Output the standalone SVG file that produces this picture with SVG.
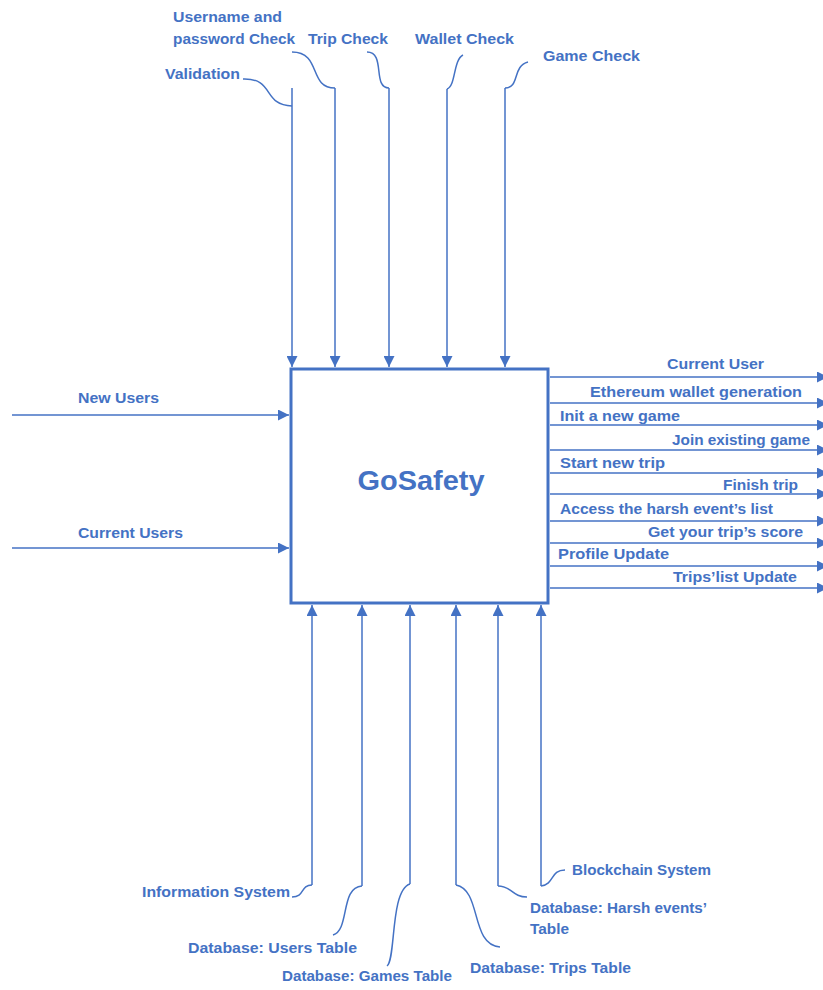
<svg xmlns="http://www.w3.org/2000/svg" width="823" height="990" viewBox="0 0 823 990">
<style>
.t{font-family:"Liberation Sans",Arial,sans-serif;font-weight:bold;font-size:15.5px;fill:#4472C4}
.c{fill:none;stroke:#4472C4;stroke-width:1.5}
.a{fill:none;stroke:#4472C4;stroke-width:1.5;marker-end:url(#ah)}
</style>
<defs>
<marker id="ah" viewBox="0 0 10 10" refX="10" refY="5" markerWidth="11" markerHeight="11" markerUnits="userSpaceOnUse" orient="auto">
<path d="M0,0 L10,5 L0,10 z" fill="#4472C4"/>
</marker>
</defs>
<rect width="823" height="990" fill="#fff"/>
<g id="gosafety">
<rect x="291" y="369" width="257" height="234" fill="#fff" stroke="#4472C4" stroke-width="3"/>
<text x="421" y="490" text-anchor="middle" style="font-family:'Liberation Sans',Arial,sans-serif;font-weight:bold;font-size:27px;fill:#4472C4" textLength="127" lengthAdjust="spacingAndGlyphs">GoSafety</text>
</g>
<g id="connectors">
<path class="c" d="M243,79 C275,78 262,105 292,106"/>
<path class="a" d="M292,88 L292,367"/>
<path class="c" d="M292,52 C322,52 308,88 335,88"/>
<path class="a" d="M335,88 L335,367"/>
<path class="c" d="M367,52 C386,52 372,88 389,88"/>
<path class="a" d="M389,88 L389,367"/>
<path class="c" d="M463,55 C453,60 456,86 447,89"/>
<path class="a" d="M447,89 L447,367"/>
<path class="c" d="M528,62 C512,66 520,88 505,88"/>
<path class="a" d="M505,88 L505,367"/>
<path class="a" d="M12,415 L289,415"/>
<path class="a" d="M12,548 L289,548"/>
<path class="a" d="M550,377 L828,377"/>
<path class="a" d="M550,403 L828,403"/>
<path class="a" d="M550,425 L828,425"/>
<path class="a" d="M550,450 L828,450"/>
<path class="a" d="M550,473 L828,473"/>
<path class="a" d="M550,494 L828,494"/>
<path class="a" d="M550,521 L828,521"/>
<path class="a" d="M550,543 L828,543"/>
<path class="a" d="M550,566 L828,566"/>
<path class="a" d="M550,588 L828,588"/>
<path class="a" d="M312,885 L312,605"/>
<path class="c" d="M312,885 C300,885 305,897 292,897"/>
<path class="a" d="M362,886 L362,605"/>
<path class="c" d="M362,886 C340,887 350,930 333,935"/>
<path class="a" d="M410,884 L410,605"/>
<path class="c" d="M410,884 C390,890 396,960 387,966"/>
<path class="a" d="M456,885 L456,605"/>
<path class="c" d="M456,885 C482,890 470,945 500,947"/>
<path class="a" d="M498,886 L498,605"/>
<path class="c" d="M498,886 C512,886 512,897 527,897"/>
<path class="a" d="M541,886 L541,605"/>
<path class="c" d="M541,886 C555,884 550,870 565,870"/>
</g>
<g id="label-validation"><text class="t" x="165" y="79" textLength="75" lengthAdjust="spacingAndGlyphs">Validation</text></g>
<g id="label-username"><text class="t" x="173" y="22" textLength="109" lengthAdjust="spacingAndGlyphs">Username and</text><text class="t" x="173" y="44" textLength="122" lengthAdjust="spacingAndGlyphs">password Check</text></g>
<g id="label-trip-check"><text class="t" x="308" y="44" textLength="80" lengthAdjust="spacingAndGlyphs">Trip Check</text></g>
<g id="label-wallet-check"><text class="t" x="415" y="44" textLength="99" lengthAdjust="spacingAndGlyphs">Wallet Check</text></g>
<g id="label-game-check"><text class="t" x="543" y="61" textLength="97" lengthAdjust="spacingAndGlyphs">Game Check</text></g>
<g id="label-new-users"><text class="t" x="78" y="403" textLength="81" lengthAdjust="spacingAndGlyphs">New Users</text></g>
<g id="label-current-users"><text class="t" x="78" y="538" textLength="105" lengthAdjust="spacingAndGlyphs">Current Users</text></g>
<g id="label-current-user"><text class="t" x="667" y="369" textLength="97" lengthAdjust="spacingAndGlyphs">Current User</text></g>
<g id="label-ethereum"><text class="t" x="590" y="397" textLength="212" lengthAdjust="spacingAndGlyphs">Ethereum wallet generation</text></g>
<g id="label-init-game"><text class="t" x="560" y="421" textLength="120" lengthAdjust="spacingAndGlyphs">Init a new game</text></g>
<g id="label-join-game"><text class="t" x="672" y="445" textLength="138" lengthAdjust="spacingAndGlyphs">Join existing game</text></g>
<g id="label-start-trip"><text class="t" x="560" y="468" textLength="105" lengthAdjust="spacingAndGlyphs">Start new trip</text></g>
<g id="label-finish-trip"><text class="t" x="723" y="490" textLength="75" lengthAdjust="spacingAndGlyphs">Finish trip</text></g>
<g id="label-harsh-list"><text class="t" x="560" y="514" textLength="213" lengthAdjust="spacingAndGlyphs">Access the harsh event’s list</text></g>
<g id="label-trip-score"><text class="t" x="648" y="537" textLength="155" lengthAdjust="spacingAndGlyphs">Get your trip’s score</text></g>
<g id="label-profile-update"><text class="t" x="558" y="559" textLength="111" lengthAdjust="spacingAndGlyphs">Profile Update</text></g>
<g id="label-trips-list-update"><text class="t" x="673" y="582" textLength="124" lengthAdjust="spacingAndGlyphs">Trips’list Update</text></g>
<g id="label-information-system"><text class="t" x="142" y="897" textLength="148" lengthAdjust="spacingAndGlyphs">Information System</text></g>
<g id="label-users-table"><text class="t" x="188" y="953" textLength="169" lengthAdjust="spacingAndGlyphs">Database: Users Table</text></g>
<g id="label-games-table"><text class="t" x="282" y="981" textLength="170" lengthAdjust="spacingAndGlyphs">Database: Games Table</text></g>
<g id="label-trips-table"><text class="t" x="470" y="973" textLength="161" lengthAdjust="spacingAndGlyphs">Database: Trips Table</text></g>
<g id="label-harsh-table"><text class="t" x="530" y="913" textLength="177" lengthAdjust="spacingAndGlyphs">Database: Harsh events’</text><text class="t" x="530" y="934" textLength="39" lengthAdjust="spacingAndGlyphs">Table</text></g>
<g id="label-blockchain"><text class="t" x="572" y="875" textLength="139" lengthAdjust="spacingAndGlyphs">Blockchain System</text></g>
</svg>
